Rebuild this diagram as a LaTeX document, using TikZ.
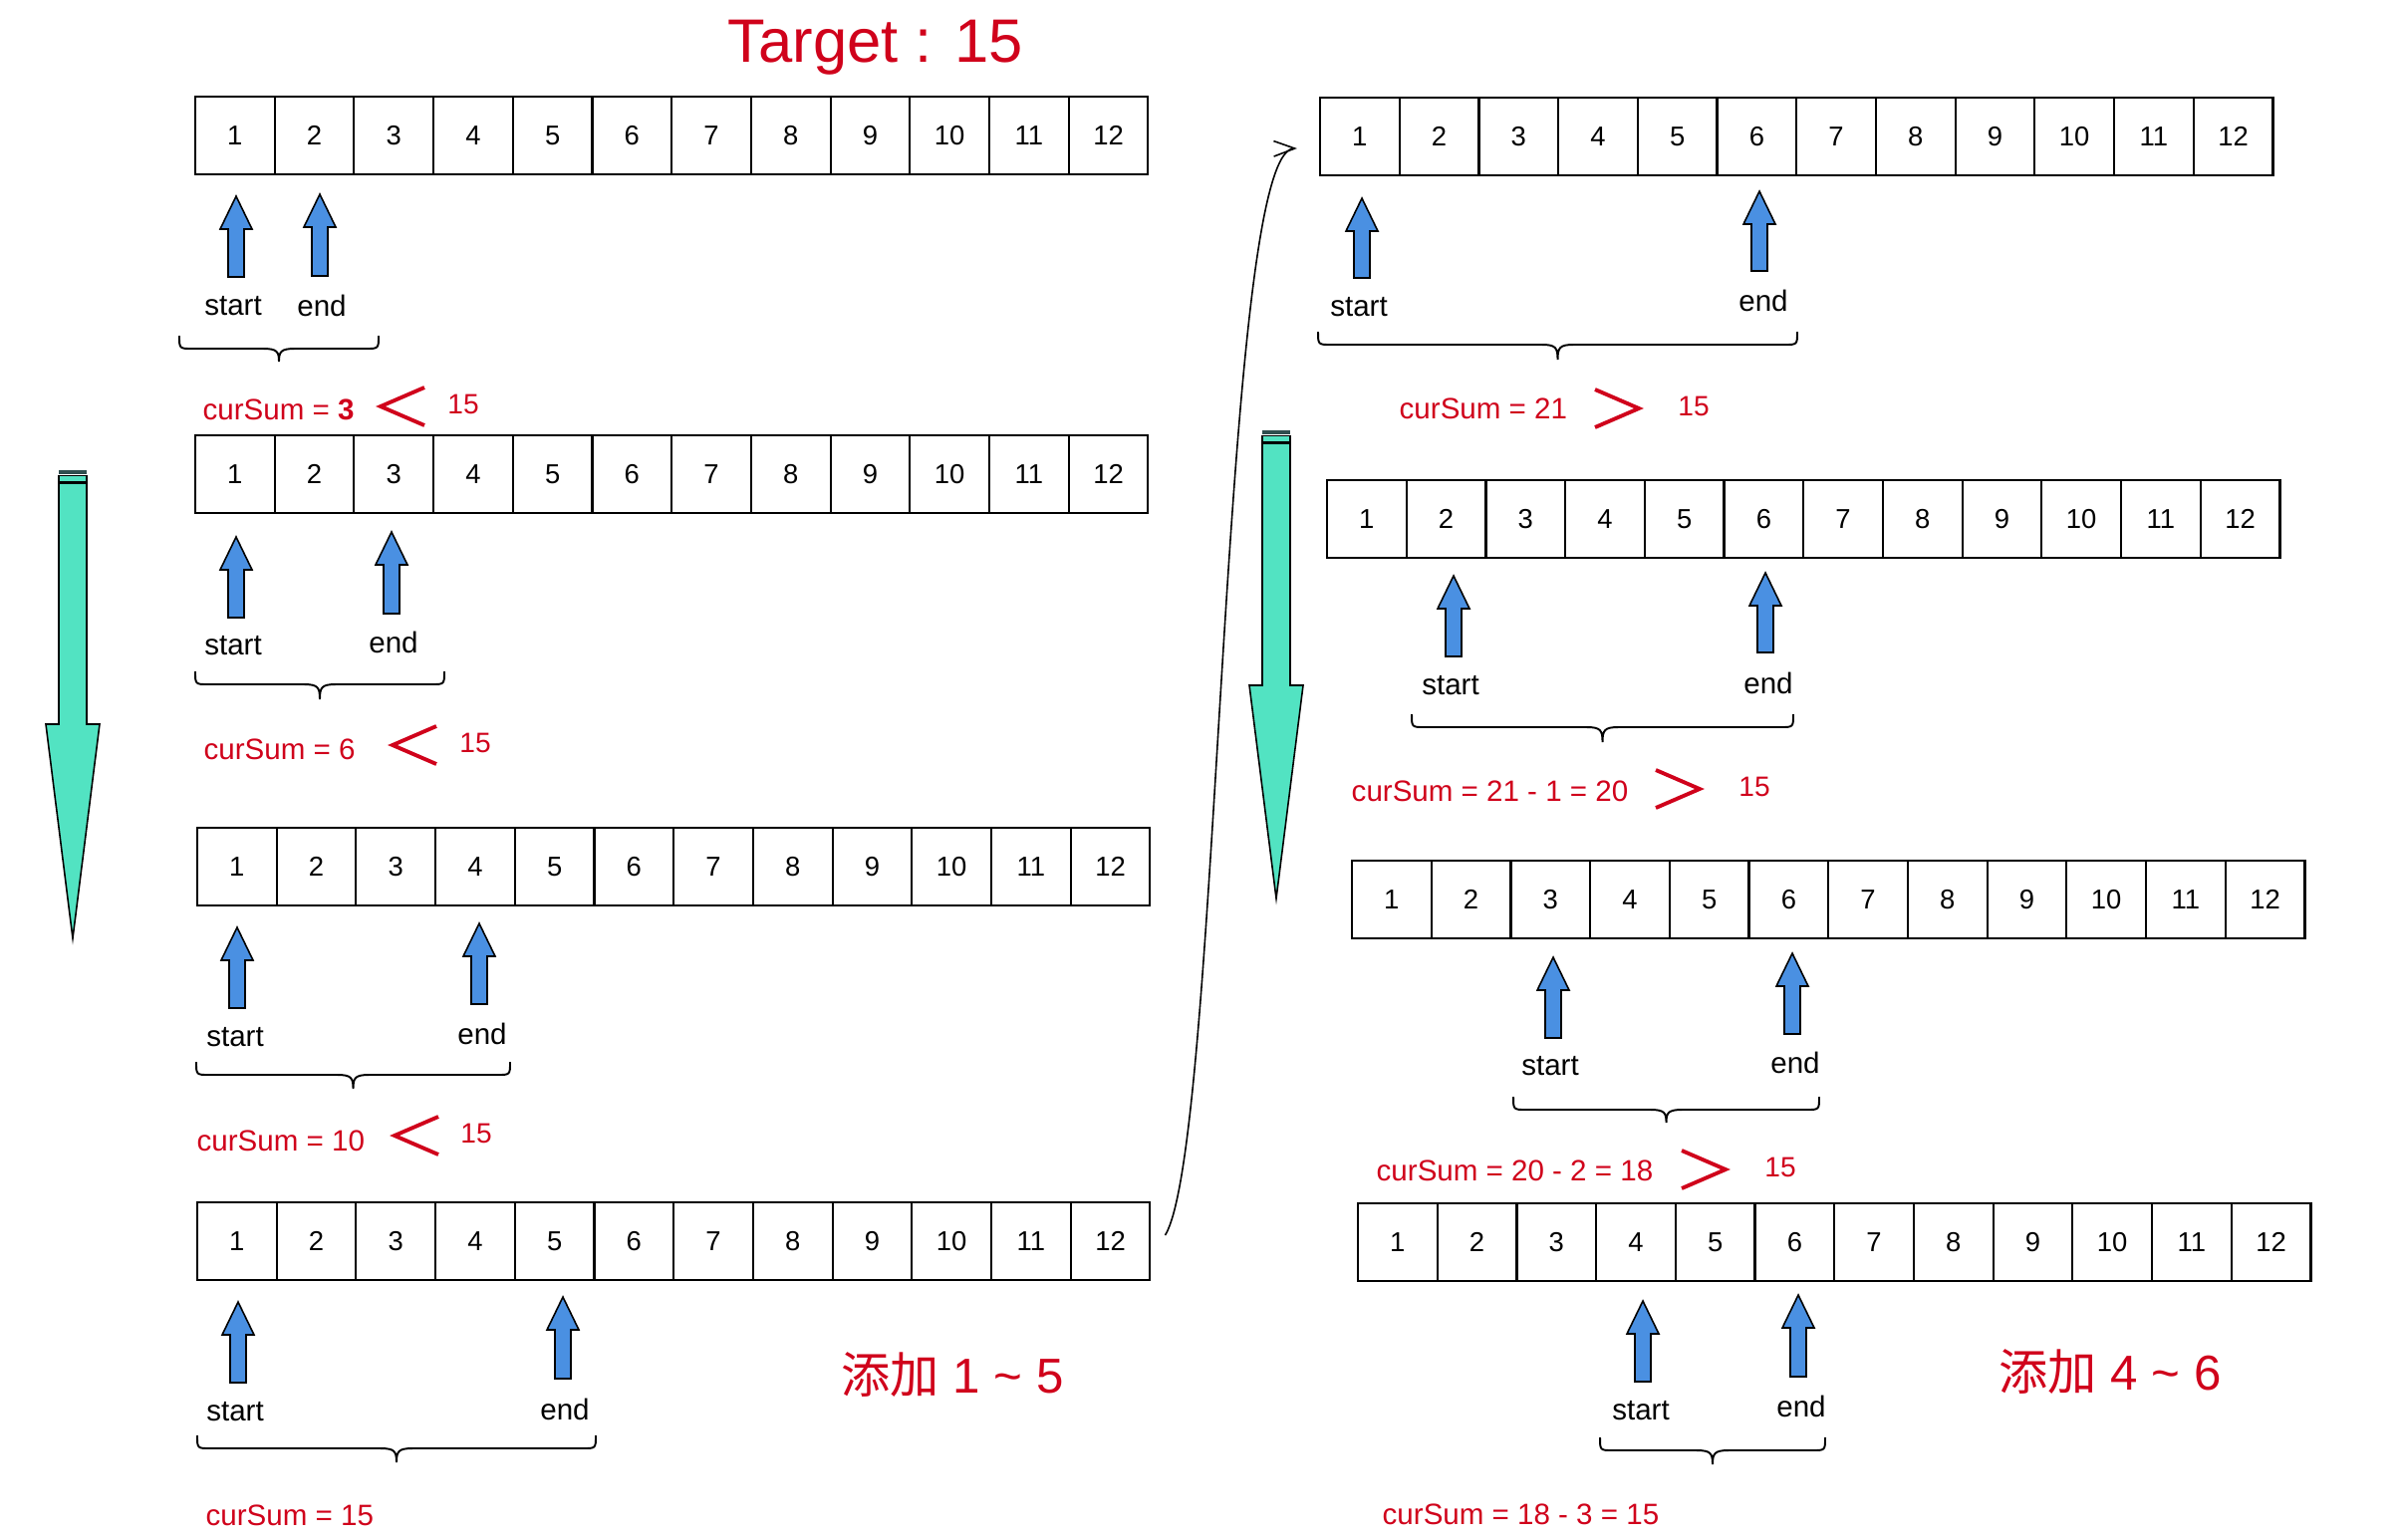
\documentclass[tikz,border=0pt]{standalone}
\usepackage{fontspec}
\setmainfont{Liberation Sans}
\newfontfamily\cjk{Noto Sans CJK SC}
\usetikzlibrary{arrows.meta}
\definecolor{redc}{HTML}{D0021B}
\definecolor{bluef}{HTML}{4A90E2}
\definecolor{greenf}{HTML}{52E3C2}
\definecolor{darkbar}{HTML}{2F4F4F}
\newcommand{\arrrow}[3]{%
  \foreach \i in {1,...,12} \node[cell] (#1-\i) at ({#2+(\i-0.5)*79.7},#3) {\i};}
\newcommand{\blueup}[3]{%
  \draw[bluearr] ({#1-8},#3) -- ({#1-8},{#2+33}) -- ({#1-16},{#2+33}) -- (#1,#2)
   -- ({#1+16},{#2+33}) -- ({#1+8},{#2+33}) -- ({#1+8},#3) -- cycle;}
\newcommand{\curly}[4]{%
  \draw[bracestyle] (#1,#3) .. controls (#1,{#3+13}) .. ({#1+13},{#3+13})
   -- ({(#1+#2)/2-16},{#3+13}) .. controls ({(#1+#2)/2-2},{#3+13}) and ({(#1+#2)/2},{#3+16}) .. ({(#1+#2)/2},#4)
   .. controls ({(#1+#2)/2},{#3+16}) and ({(#1+#2)/2+2},{#3+13}) .. ({(#1+#2)/2+16},{#3+13})
   -- ({#2-13},{#3+13}) .. controls (#2,{#3+13}) .. (#2,#3);}
\newcommand{\greendown}[5]{%
  \fill[darkbar] ({#1-14},#2) rectangle ({#1+14},{#2+4});
  \draw[greenarr] ({#1-14},{#2+5.5}) rectangle ({#1+14},{#3-1.5});
  \draw[greenarr] ({#1-14},#3) -- ({#1-14},#4) -- ({#1-27},#4) -- (#1,#5)
   -- ({#1+27},#4) -- ({#1+14},#4) -- ({#1+14},#3) -- cycle;}
\newcommand{\ltmark}[3]{\draw[cmp] ({#1+44},{#2-19}) -- (#1,#2) -- ({#1+44},{#2+19});}
\newcommand{\gtmark}[3]{\draw[cmp] (#1,{#2-19}) -- ({#1+44},#2) -- (#1,{#2+19});}
\begin{document}
\begin{tikzpicture}[x=0.01cm,y=-0.01cm,
  cell/.style={draw, line width=0.6pt, minimum width=0.797cm, minimum height=0.78cm,
    inner sep=0pt, font=\fontsize{7.8}{9}\selectfont},
  lbl/.style={inner sep=0pt, font=\fontsize{8.4}{10}\selectfont},
  sum/.style={lbl, text=redc, anchor=west},
  num/.style={lbl, text=redc, font=\fontsize{8}{10}\selectfont},
  cmp/.style={redc, line width=1.1pt},
  bluearr/.style={draw=black, fill=bluef, line width=0.45pt},
  greenarr/.style={draw=black, fill=greenf, line width=0.45pt},
  bracestyle/.style={line width=0.55pt},
  big/.style={inner sep=0pt, text=redc, font=\fontsize{14}{16}\selectfont, anchor=west},
]
\useasboundingbox[fill=white] (0,0) rectangle (2410,1545);

% title
\node[inner sep=0pt, text=redc, font=\fontsize{17.5}{20}\selectfont, anchor=base west] (title) at (730,62) {Target : 15};

% green progress arrows
\greendown{73}{472}{485}{727}{942}
\greendown{1281}{432}{445}{688}{902}

% ---------- left column ----------
\arrrow{L1}{196}{136}
\blueup{237}{197}{278}\blueup{321}{195}{277}
\node[lbl] (L1s) at (234,307) {start};
\node[lbl] (L1e) at (323,307) {end};
\curly{180}{380}{337}{363}
\node[sum] (L1sum) at (203,411) {curSum = \textbf{3}};
\ltmark{382}{408}{}
\node[num] (L1n) at (465,406) {15};

\arrrow{L2}{196}{476}
\blueup{237}{539}{620}\blueup{393}{534}{616}
\node[lbl] (L2s) at (234,648) {start};
\node[lbl] (L2e) at (395,645) {end};
\curly{196}{446}{674}{702}
\node[sum] (L2sum) at (204,752) {curSum = 6};
\ltmark{394}{748}{}
\node[num] (L2n) at (477,746) {15};

\arrrow{L3}{198}{870}
\blueup{238}{931}{1012}\blueup{481}{927}{1008}
\node[lbl] (L3s) at (236,1041) {start};
\node[lbl] (L3e) at (484,1038) {end};
\curly{197}{512}{1066}{1093}
\node[sum] (L3sum) at (197,1145) {curSum = 10};
\ltmark{396}{1140}{}
\node[num] (L3n) at (478,1138) {15};

\arrrow{L4}{198}{1246}
\blueup{239}{1307}{1388}\blueup{565}{1302}{1384}
\node[lbl] (L4s) at (236,1417) {start};
\node[lbl] (L4e) at (567,1415) {end};
\curly{198}{598}{1441}{1468}
\node[sum] (L4sum) at (206,1521) {curSum = 15};
\node[big] (L4add) at (844,1380) {{\cjk 添加} 1 \textasciitilde{} 5};

% ---------- right column ----------
\arrrow{R1}{1325}{137}
\blueup{1367}{199}{279}\blueup{1766}{192}{272}
\node[lbl] (R1s) at (1364,308) {start};
\node[lbl] (R1e) at (1770,302) {end};
\curly{1323}{1804}{333}{361}
\node[sum] (R1sum) at (1404,410) {curSum = 21};
\gtmark{1601}{410}{}
\node[num] (R1n) at (1700,408) {15};

\arrrow{R2}{1332}{521}
\blueup{1459}{578}{659}\blueup{1772}{575}{655}
\node[lbl] (R2s) at (1456,688) {start};
\node[lbl] (R2e) at (1775,686) {end};
\curly{1417}{1800}{717}{745}
\node[sum] (R2sum) at (1356,794) {curSum = 21 - 1 = 20};
\gtmark{1662}{792}{}
\node[num] (R2n) at (1761,790) {15};

\arrrow{R3}{1357}{903}
\blueup{1559}{961}{1042}\blueup{1799}{957}{1038}
\node[lbl] (R3s) at (1556,1070) {start};
\node[lbl] (R3e) at (1802,1067) {end};
\curly{1519}{1826}{1101}{1127}
\node[sum] (R3sum) at (1381,1175) {curSum = 20 - 2 = 18};
\gtmark{1688}{1174}{}
\node[num] (R3n) at (1787,1172) {15};

\arrrow{R4}{1363}{1247}
\blueup{1649}{1306}{1387}\blueup{1805}{1300}{1382}
\node[lbl] (R4s) at (1647,1416) {start};
\node[lbl] (R4e) at (1808,1412) {end};
\curly{1606}{1832}{1443}{1470}
\node[sum] (R4sum) at (1387,1520) {curSum = 18 - 3 = 15};
\node[big] (R4add) at (2006,1377) {{\cjk 添加} 4 \textasciitilde{} 6};

% connector from last left array to first right array
\coordinate (cstart) at ([shift={(14,-6)}]L4-12.east);
\coordinate (cend) at ([shift={(-22,12)}]R1-1.west);
\draw[line width=0.45pt, -{Straight Barb[length=6pt,width=4.4pt]}]
  (cstart) .. controls (1225,1150) and (1225,150) .. (cend);
\end{tikzpicture}
\end{document}
